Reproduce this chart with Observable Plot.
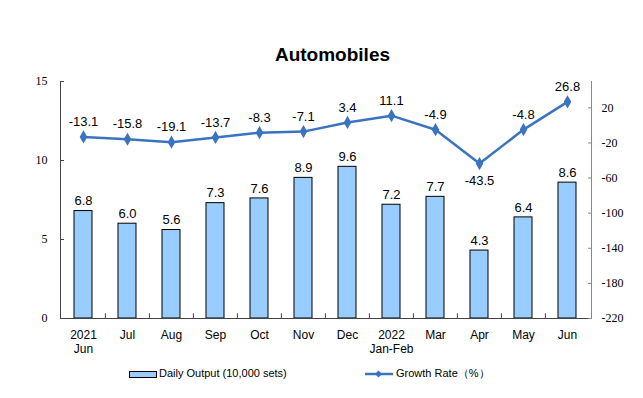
<!DOCTYPE html>
<html><head><meta charset="utf-8">
<script src="https://cdn.jsdelivr.net/npm/d3@7"></script>
<script src="https://cdn.jsdelivr.net/npm/@observablehq/plot@0.6"></script>
<style>
body{margin:0;background:#fff;font-family:"Liberation Sans",Arial,sans-serif;}
#wrap{position:relative;width:643px;height:398px;overflow:hidden;}
#title{height:70px;box-sizing:border-box;padding-top:44px;line-height:22px;text-align:center;font-size:19px;font-weight:bold;color:#000;padding-left:22px;}
#chart{height:290px;}
#legend{position:relative;height:38px;font-size:11px;color:#000;}
.item{position:absolute;top:6px;line-height:14px;white-space:nowrap;}
</style></head><body>
<div id="wrap">
<div id="title">Automobiles</div>
<div id="chart"></div>
<div id="legend">
  <div class="item" style="left:129px"><span style="display:inline-block;width:26px;height:5px;background:#99CCFF;border:1px solid #000;vertical-align:middle;margin-right:2px"></span>Daily Output (10,000 sets)</div>
  <div class="item" style="left:365px"><svg width="29" height="10" style="vertical-align:middle;margin-right:2px"><line x1="0" y1="5" x2="28" y2="5" stroke="#3A73C0" stroke-width="2.5"/><path d="M13.5,1.5 L17,5 L13.5,8.5 L10,5Z" fill="#3A73C0"/></svg>Growth Rate（%）</div>
</div>
</div>
<script>
const months = ["2021-06","2021-07","2021-08","2021-09","2021-10","2021-11","2021-12","2022-01/02","2022-03","2022-04","2022-05","2022-06"];
const monthLabels = ["2021\nJun","Jul","Aug","Sep","Oct","Nov","Dec","2022\nJan-Feb","Mar","Apr","May","Jun"];
const output = [6.8, 6.0, 5.6, 7.3, 7.6, 8.9, 9.6, 7.2, 7.7, 4.3, 6.4, 8.6];
const growth = [-13.1, -15.8, -19.1, -13.7, -8.3, -7.1, 3.4, 11.1, -4.9, -43.5, -4.8, 26.8];
const leftTicks = [0, 5, 10, 15];
const rightTicks = [20, -20, -60, -100, -140, -180, -220];
const leftDomain = [0, 15];
const rightDomain = [-220, 50];

const toLeft = v => (v - rightDomain[0]) / (rightDomain[1] - rightDomain[0]) * (leftDomain[1] - leftDomain[0]) + leftDomain[0];
const data = months.map((m, i) => ({month: m, output: output[i], growth: growth[i], gy: toLeft(growth[i])}));
const rightData = rightTicks.map(t => ({label: String(t), y: toLeft(t)}));

const W = 643, ML = 60, MR = 52;
const step = (W - ML - MR) / months.length;
const blue = "#3A73C0";
const serif = "Liberation Serif";

const chart = Plot.plot({
  width: W, height: 290,
  marginTop: 11, marginBottom: 42, marginLeft: ML, marginRight: MR,
  x: {domain: months, paddingInner: 0.59, paddingOuter: 0.295, axis: null},
  y: {domain: leftDomain, axis: null},
  style: {fontFamily: "Liberation Sans, Arial, sans-serif", fontSize: "12px", color: "#000", background: "#fff"},
  marks: [
    Plot.barY(data, {x: "month", y: "output", fill: "#99CCFF", stroke: "#000", strokeWidth: 1}),
    Plot.frame({anchor: "left", stroke: "#444"}),
    Plot.frame({anchor: "right", stroke: "#888"}),
    Plot.ruleY([0], {stroke: "#444"}),
    Plot.ruleX(months.slice(1), {x: d => d, dx: -step / 2, y1: 0, y2: 0.3, stroke: "#444"}),
    Plot.axisX({tickSize: 0, tickPadding: 10, label: null, lineHeight: 1.2, tickFormat: (d) => monthLabels[months.indexOf(d)], fontSize: 12, fill: "#000"}),
    Plot.axisY(leftTicks, {anchor: "left", label: null, tickSize: -4, tickFormat: () => "", stroke: "#444"}),
    Plot.axisY(rightData.map(d => d.y), {anchor: "right", label: null, tickSize: -4, tickFormat: () => "", stroke: "#888"}),
    Plot.text(leftTicks, {y: d => d, frameAnchor: "left", dx: -13, textAnchor: "end", fontFamily: serif, fontSize: 12, fill: "#000"}),
    Plot.text(rightData, {y: "y", text: "label", frameAnchor: "right", dx: 10, textAnchor: "start", fontFamily: serif, fontSize: 12, fill: "#000"}),
    Plot.text(data, {x: "month", y: "output", text: d => d.output.toFixed(1), dy: -10, fontSize: 13, fill: "#000"}),
    Plot.line(data, {x: "month", y: "gy", stroke: blue, strokeWidth: 2.5}),
    Plot.dot(data, {x: "month", y: "gy", symbol: "diamond", r: 4, fill: blue, stroke: "none"}),
    Plot.text(data.filter(d => d.growth > -30), {x: "month", y: "gy", text: d => d.growth.toFixed(1), dy: -15, fontSize: 13, fill: "#000"}),
    Plot.text(data.filter(d => d.growth <= -30), {x: "month", y: "gy", text: d => d.growth.toFixed(1), dy: 17, fontSize: 13, fill: "#000"})
  ]
});
document.getElementById("chart").appendChild(chart);
</script>
</body></html>
